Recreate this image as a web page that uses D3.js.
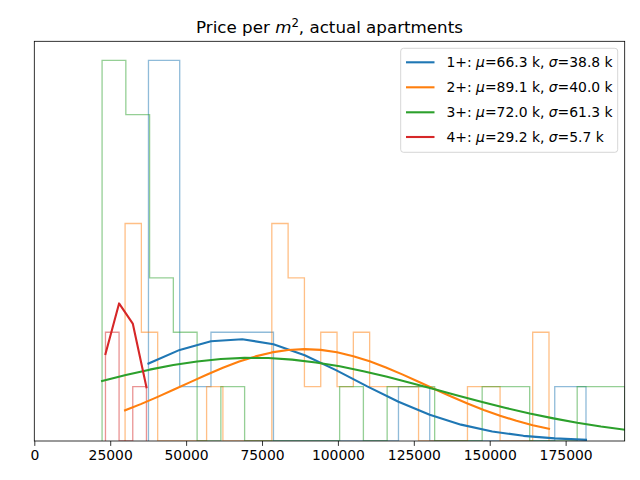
<!DOCTYPE html>
<html>
<head>
<meta charset="utf-8">
<script src="https://cdn.jsdelivr.net/npm/d3@7"></script>
<style>
  html, body { margin: 0; padding: 0; background: #ffffff; }
  svg { display: block; }
  text { font-family: "DejaVu Sans", sans-serif; }
</style>
</head>
<body>
<div id="chart"></div>
<script>
// ---------------- data ----------------
const seriesNames = ["1+", "2+", "3+", "4+"];
const seriesMu = [66.3, 89.1, 72.0, 29.2];      // k
const seriesSigma = [38.8, 40.0, 61.3, 5.7];    // k
const seriesColors = ["#1f77b4", "#ff7f0e", "#2ca02c", "#d62728"];

const xTickValues = [0, 25000, 50000, 75000, 100000, 125000, 150000, 175000];
const xMax = 194453;
const yMax = 7.35;

// bin edges (price per m2)
const edges1 = [37600, 47893, 58186, 68479, 78772, 89065, 99358, 109651, 119944, 130237, 140530, 150823, 161116, 171409, 181702];
const edges2 = [29898, 35268, 40638, 46008, 51378, 56748, 62118, 67488, 72858, 78228, 83598, 88968, 94338, 99708, 105078, 110448, 115818, 121188, 126558, 131928, 137298, 142668, 148038, 153408, 158778, 164148, 169518];
const edges3 = [22325, 30149, 37973, 45797, 53621, 61445, 69269, 77093, 84917, 92741, 100565, 108389, 116213, 124037, 131861, 139685, 147509, 155333, 163157, 170981, 178805, 186629, 194453];
const edges4 = [23440, 27920, 32430, 36940];

// histogram counts
const counts1 = [7, 1, 2, 2, 0, 0, 0, 0, 1, 0, 0, 0, 0, 1];
const counts2 = [4, 2, 0, 0, 0, 1, 0, 0, 0, 4, 3, 1, 2, 1, 2, 1, 1, 1, 0, 0, 0, 1, 1, 0, 0, 2];
const counts3 = [7, 6, 3, 2, 0, 1, 0, 0, 0, 0, 1, 0, 1, 1, 0, 0, 1, 1, 0, 0, 1, 1];
const counts4 = [2, 0, 1];

// fitted curve values at bin edges
const curve1 = [1.425, 1.675, 1.834, 1.871, 1.780, 1.578, 1.304, 1.004, 0.721, 0.482, 0.301, 0.175, 0.095, 0.048, 0.022];
const curve2 = [0.565, 0.683, 0.811, 0.946, 1.083, 1.218, 1.346, 1.460, 1.556, 1.629, 1.674, 1.690, 1.676, 1.632, 1.560, 1.466, 1.352, 1.225, 1.090, 0.953, 0.818, 0.689, 0.571, 0.464, 0.371, 0.291, 0.224];
const curve3 = [1.102, 1.212, 1.312, 1.396, 1.463, 1.508, 1.528, 1.525, 1.496, 1.445, 1.373, 1.283, 1.180, 1.067, 0.950, 0.832, 0.716, 0.607, 0.506, 0.416, 0.335, 0.266, 0.208];
const curve4 = [1.60, 2.53, 2.16, 0.99];

const allEdges = [edges1, edges2, edges3, edges4];
const allCounts = [counts1, counts2, counts3, counts4];
const allCurves = [curve1, curve2, curve3, curve4];

// ---------------- layout ----------------
const W = 640, H = 480;
const L = 34.3, R = 624.7, T = 41.3, B = 441;

const svg = d3.select("#chart").append("svg")
  .attr("width", W).attr("height", H);

svg.append("rect").attr("width", W).attr("height", H).attr("fill", "#ffffff");

const x = d3.scaleLinear().domain([0, xMax]).range([L, R]);
const y = d3.scaleLinear().domain([0, yMax]).range([B, T]);

svg.append("defs").append("clipPath").attr("id", "plotclip")
  .append("rect").attr("x", L).attr("y", T).attr("width", R - L).attr("height", B - T);

const plot = svg.append("g").attr("clip-path", "url(#plotclip)");

const line = d3.line().x(d => x(d[0])).y(d => y(d[1]));

// histograms (step)
allEdges.forEach((edges, i) => {
  const counts = allCounts[i];
  const pts = [[edges[0], 0]];
  counts.forEach((c, j) => {
    pts.push([edges[j], c]);
    pts.push([edges[j + 1], c]);
  });
  pts.push([edges[edges.length - 1], 0]);
  plot.append("path")
    .attr("d", line(pts))
    .attr("fill", "none")
    .attr("stroke", seriesColors[i])
    .attr("stroke-opacity", 0.5)
    .attr("stroke-width", 1.3)
    .attr("stroke-linejoin", "miter");
});

// fitted curves
allEdges.forEach((edges, i) => {
  const pts = edges.map((e, j) => [e, allCurves[i][j]]);
  plot.append("path")
    .attr("d", line(pts))
    .attr("fill", "none")
    .attr("stroke", seriesColors[i])
    .attr("stroke-width", 2.1)
    .attr("stroke-linecap", "square")
    .attr("stroke-linejoin", "round");
});

// frame
svg.append("rect")
  .attr("x", L).attr("y", T).attr("width", R - L).attr("height", B - T)
  .attr("fill", "none").attr("stroke", "#000").attr("stroke-width", 0.8);

// x axis
const xAxis = d3.axisBottom(x)
  .tickValues(xTickValues)
  .tickFormat(d3.format("d"))
  .tickSize(4.9)
  .tickPadding(4.4);
const gx = svg.append("g").attr("transform", `translate(0,${B})`).call(xAxis);
gx.select(".domain").remove();
gx.selectAll(".tick line").attr("stroke", "#000").attr("stroke-width", 0.8);
gx.selectAll(".tick text")
  .attr("fill", "#000")
  .style("font-family", "'DejaVu Sans', sans-serif")
  .style("font-size", "13.9px");

// title
const title = svg.append("text")
  .attr("x", (L + R) / 2).attr("y", 33)
  .attr("text-anchor", "middle")
  .style("font-size", "16.7px")
  .attr("fill", "#000");
title.append("tspan").text("Price per ");
title.append("tspan").text("m").style("font-style", "italic");
title.append("tspan").text("2").attr("dy", -6).style("font-size", "11.7px");
title.append("tspan").text(", actual apartments").attr("dy", 6);

// legend
const lg = svg.append("g");
lg.append("rect")
  .attr("x", 400.7).attr("y", 48.3).attr("width", 217).attr("height", 104)
  .attr("rx", 2.8).attr("ry", 2.8)
  .attr("fill", "#ffffff").attr("fill-opacity", 0.8)
  .attr("stroke", "#cccccc").attr("stroke-width", 0.8);

const rowY = [62.3, 87.3, 112.3, 137.0];
const legendTexts = [];
seriesNames.forEach((name, i) => {
  const ry = rowY[i];
  lg.append("line")
    .attr("x1", 406).attr("x2", 434.5).attr("y1", ry).attr("y2", ry)
    .attr("stroke", seriesColors[i]).attr("stroke-width", 2.1);
  const t = lg.append("text")
    .attr("x", 446.5).attr("y", ry + 5)
    .style("font-size", "13.9px").attr("fill", "#000");
  t.append("tspan").text(name + ": ");
  t.append("tspan").text("\u03BC").style("font-style", "italic");
  t.append("tspan").text("=" + seriesMu[i].toFixed(1) + " k, ");
  t.append("tspan").text("\u03C3").style("font-style", "italic");
  t.append("tspan").text("=" + seriesSigma[i].toFixed(1) + " k");
  legendTexts.push(t);
});
// widen legend text slightly to match matplotlib mathtext spacing
const baseLen = legendTexts[0].node().getComputedTextLength();
const stretch = baseLen > 0 ? 165 / baseLen : 1;
legendTexts.forEach(t => {
  const len = t.node().getComputedTextLength();
  if (len > 0 && stretch > 1) {
    t.attr("textLength", len * stretch).attr("lengthAdjust", "spacing");
  }
});
</script>
</body>
</html>
